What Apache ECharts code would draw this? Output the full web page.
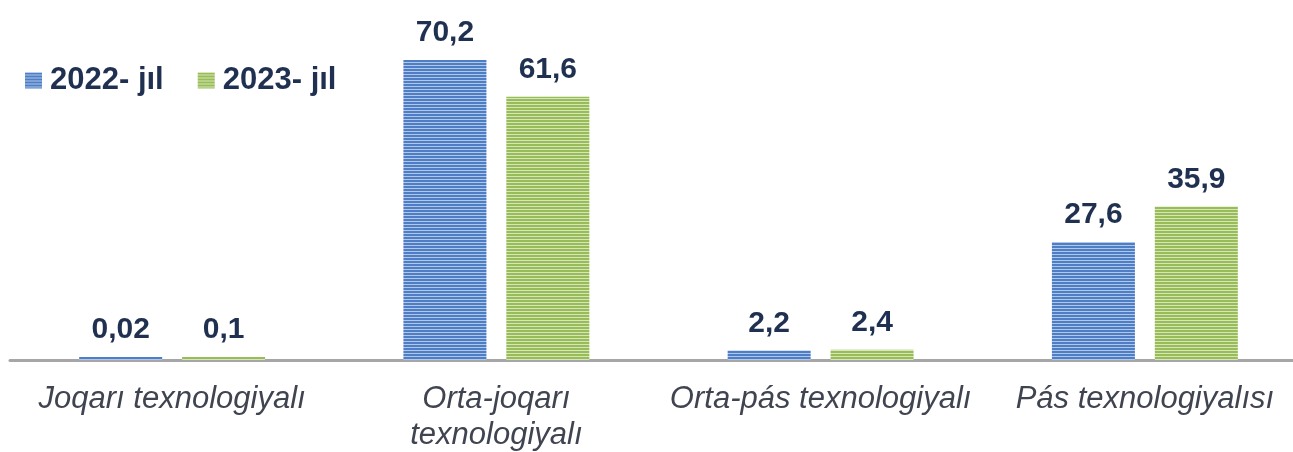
<!DOCTYPE html>
<html>
<head>
<meta charset="utf-8">
<script src="https://cdn.jsdelivr.net/npm/echarts@6/dist/echarts.min.js"></script>
<style>
html,body{margin:0;padding:0;background:#fff;}
#chart{width:1293px;height:452px;}
</style>
</head>
<body>
<div id="chart"></div>
<script>
const categories = ["Joqarı texnologiyalı", "Orta-joqarı\ntexnologiyalı", "Orta-pás texnologiyalı", "Pás texnologiyalısı"];
const seriesNames = ["2022- jıl", "2023- jıl"];
const values2022 = [0.02, 70.2, 2.2, 27.6];
const values2023 = [0.1, 61.6, 2.4, 35.9];
const labels2022 = ["0,02", "70,2", "2,2", "27,6"];
const labels2023 = ["0,1", "61,6", "2,4", "35,9"];

function stripe(dark, light) {
  const c = document.createElement('canvas');
  c.width = 4; c.height = 3;
  const ctx = c.getContext('2d');
  ctx.fillStyle = dark; ctx.fillRect(0, 0, 4, 2);
  ctx.fillStyle = light; ctx.fillRect(0, 2, 4, 1);
  return { image: c, repeat: 'repeat' };
}
const blue = stripe('#4e7ec4', '#b0c6ea');
const green = stripe('#98bd58', '#d6e6b9');

const chart = echarts.init(document.getElementById('chart'), null, { renderer: 'canvas', devicePixelRatio: 1 });

function mkSeries(name, vals, labs, color) {
  return {
    name: name,
    type: 'bar',
    data: vals,
    barWidth: 83,
    barGap: '24%',
    barMinHeight: 3,
    itemStyle: { color: color },
    label: {
      show: true,
      position: 'top',
      distance: 12,
      formatter: p => labs[p.dataIndex],
      fontFamily: 'Liberation Sans',
      fontWeight: 'bold',
      fontSize: 30,
      color: '#1f3050'
    }
  };
}

chart.setOption({
  animation: false,
  backgroundColor: '#fff',
  grid: { left: 10, width: 1297, top: 18, height: 342, containLabel: false, outerBoundsMode: 'none' },
  legend: {
    left: 20, top: 60,
    itemWidth: 17, itemHeight: 16, itemGap: 34,
    icon: 'rect',
    textStyle: { fontFamily: 'Liberation Sans', fontWeight: 'bold', fontSize: 31, color: '#1f3050', padding: [0, 0, 0, 3] },
    data: seriesNames
  },
  xAxis: {
    type: 'category',
    data: categories,
    axisLine: { lineStyle: { color: '#a6a6a6', width: 3 } },
    axisTick: { show: false },
    axisLabel: {
      interval: 0,
      margin: 21,
      fontFamily: 'Liberation Sans',
      fontStyle: 'italic',
      fontSize: 31,
      lineHeight: 36,
      color: '#3f4450'
    }
  },
  yAxis: {
    type: 'value', min: 0, max: 80,
    show: false,
    splitLine: { show: false }
  },
  series: [
    mkSeries(seriesNames[0], values2022, labels2022, blue),
    mkSeries(seriesNames[1], values2023, labels2023, green)
  ]
});
</script>
</body>
</html>
